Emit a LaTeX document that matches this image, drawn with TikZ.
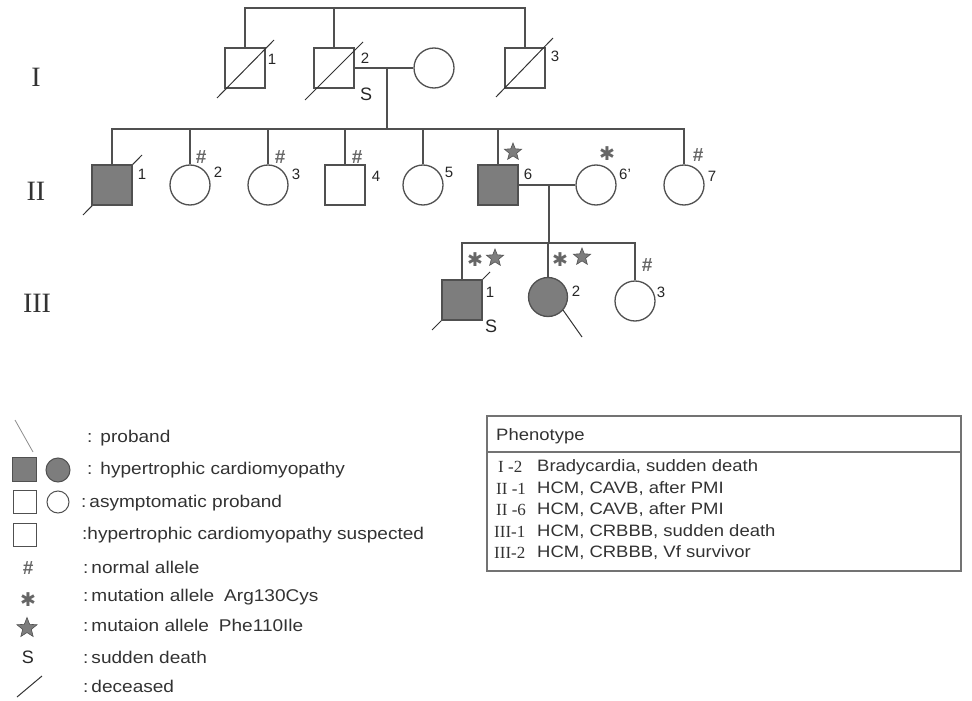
\documentclass[tikz,border=0pt]{standalone}
\usepackage{fontspec}
\setmainfont{Liberation Sans}
\newfontfamily\romanf{Liberation Serif}
\newfontfamily\widef[FakeStretch=1.12]{Liberation Sans}
\newfontfamily\symf{DejaVu Sans}
\usetikzlibrary{shapes.geometric}
\definecolor{lc}{RGB}{80,80,80}
\definecolor{fc}{RGB}{125,125,125}
\definecolor{tc}{RGB}{50,50,50}
\begin{document}
\begin{tikzpicture}[x=1pt,y=-1pt,
 ln/.style={draw=lc,line width=1.3pt},
 sq/.style={rectangle,draw=lc,line width=1.3pt,minimum size=40pt,inner sep=0pt},
 ci/.style={circle,draw=lc,line width=1.3pt,minimum size=40pt,inner sep=0pt},
 aff/.style={fill=fc},
 slash/.style={draw=black!80,line width=1pt},
 num/.style={font=\fontsize{15}{15}\selectfont,text=black!85,inner sep=0pt},
 sdeath/.style={font=\fontsize{18}{18}\selectfont,text=black!85,inner sep=0pt},
 gen/.style={font=\romanf\fontsize{28}{28}\selectfont,text=black!80,inner sep=0pt},
 hashm/.style={font=\bfseries\itshape\fontsize{19}{19}\selectfont,text=black!60,inner sep=0pt},
 astm/.style={font=\symf\fontsize{19}{19}\selectfont,text=black!60,inner sep=0pt},
 starm/.style={star,star points=5,star point ratio=2.3,fill=fc,draw=lc,line width=0.6pt,minimum size=18pt,inner sep=0pt},
 leg/.style={font=\widef\fontsize{17}{17}\selectfont,text=tc,anchor=west,inner sep=0pt},
 tbl/.style={font=\widef\fontsize{16.5}{16.5}\selectfont,text=tc,anchor=west,inner sep=0pt},
 tblr/.style={font=\romanf\fontsize{17}{17}\selectfont,text=tc,anchor=west,inner sep=0pt},
]
\useasboundingbox (0,0) rectangle (972,701);

% generation labels
\node[gen] (gI) at (36,77) {I};
\node[gen] (gII) at (36,191) {II};
\node[gen] (gIII) at (37,303) {III};

% ---------- Generation I ----------
\node[sq] (I1) at (245,68) {};
\node[sq] (I2) at (334,68) {};
\node[ci] (I2w) at (434,68) {};
\node[sq] (I3) at (525,68) {};
\draw[slash] (217,98) -- (274,40);
\draw[slash] (305,100) -- (363,42);
\draw[slash] (496,97) -- (553,38);
\node[num] (n11) at (272,59) {1};
\node[num] (n12) at (365,58) {2};
\node[sdeath] (s12) at (366,94) {S};
\node[num] (n13) at (555,56) {3};

\coordinate (t1) at (245,8);
\coordinate (t3) at (525,8);
\coordinate (t2) at (334,8);
\draw[ln] (I1.north) -- (t1) -- (t3) -- (I3.north);
\draw[ln] (t2) -- (I2.north);
\draw[ln] (I2.east) -- (I2w.west);
\coordinate (m1) at (387,68);
\coordinate (m1b) at (387,129);
\draw[ln] (m1) -- (m1b);

% ---------- Generation II ----------
\draw[slash] (83,215) -- (142,155);
\node[sq,aff] (II1) at (112,185) {};
\node[ci] (II2) at (190,185) {};
\node[ci] (II3) at (268,185) {};
\node[sq] (II4) at (345,185) {};
\node[ci] (II5) at (423,185) {};
\node[sq,aff] (II6) at (498,185) {};
\node[ci] (II6w) at (596,185) {};
\node[ci] (II7) at (684,185) {};

\coordinate (s1) at (112,129);
\coordinate (s7) at (684,129);
\draw[ln] (II1.north) -- (s1) -- (s7) -- (II7.north);
\foreach \k in {II2,II3,II4,II5,II6}{
  \draw[ln] (\k.north) -- (\k.north |- s1);
}
\draw[ln] (II6.east) -- (II6w.west);
\coordinate (m2) at (549,185);
\coordinate (m2b) at (549,243);
\draw[ln] (m2) -- (m2b);

\node[num] (n21) at (142,174) {1};
\node[num] (n22) at (218,172) {2};
\node[num] (n23) at (296,174) {3};
\node[num] (n24) at (376,176) {4};
\node[num] (n25) at (449,172) {5};
\node[num] (n26) at (528,174) {6};
\node[num] (n26w) at (625,174) {6'};
\node[num] (n27) at (712,176) {7};
\node[hashm] (h22) at (201,157) {\#};
\node[hashm] (h23) at (280,157) {\#};
\node[hashm] (h24) at (357,157) {\#};
\node[hashm] (h27) at (698,155) {\#};
\node[starm] (st26) at (513,152) {};
\node[astm] (a26w) at (607,154) {✱};

% ---------- Generation III ----------
\draw[slash] (432,330) -- (490,272);
\node[sq,aff] (III1) at (462,300) {};
\node[ci,aff,minimum size=39pt] (III2) at (548,297) {};
\node[ci] (III3) at (635,301) {};
\draw[slash] (563,310) -- (582,337);

\coordinate (u1) at (462,243);
\coordinate (u3) at (635,243);
\draw[ln] (III1.north) -- (u1) -- (u3) -- (III3.north);
\draw[ln] (III2.north) -- (III2.north |- u1);

\node[astm] (a31) at (475,260) {✱};
\node[starm] (st31) at (495,258) {};
\node[astm] (a32) at (560,260) {✱};
\node[starm] (st32) at (582,257) {};
\node[hashm] (h33) at (647,265) {\#};
\node[num] (n31) at (490,292) {1};
\node[sdeath] (s31) at (491,326) {S};
\node[num] (n32) at (576,291) {2};
\node[num] (n33) at (661,292) {3};

% ---------- Legend ----------
\draw[draw=black!45,line width=0.8pt] (15,420) -- (33,452);
\node[leg] (L1) at (87,438) {:\hspace{8pt}proband};
\node[rectangle,fill=fc,draw=lc,line width=1pt,minimum size=24pt,inner sep=0pt] (Lsq1) at (24.5,469.5) {};
\node[circle,fill=fc,draw=lc,line width=1pt,minimum size=24pt,inner sep=0pt] (Lci1) at (58,470) {};
\node[leg] (L2) at (87,470) {:\hspace{8pt}hypertrophic cardiomyopathy};
\node[rectangle,draw=lc,line width=1pt,minimum size=23pt,inner sep=0pt] (Lsq2) at (24.5,502) {};
\node[circle,draw=lc,line width=1pt,minimum size=22pt,inner sep=0pt] (Lci2) at (58,502) {};
\node[leg] (L3) at (81,503) {:\hspace{3pt}asymptomatic proband};
\node[rectangle,draw=lc,line width=1pt,minimum size=23pt,inner sep=0pt] (Lsq3) at (24.5,535) {};
\node[leg] (L4) at (82,535) {:hypertrophic cardiomyopathy suspected};
\node[hashm] (Lh) at (28,568) {\#};
\node[leg] (L5) at (83,567) {:\hspace{3pt}normal allele};
\node[astm] (La) at (28,600) {✱};
\node[leg] (L6) at (83,597) {:\hspace{3pt}mutation allele\hspace{10pt}Arg130Cys};
\node[starm,minimum size=21pt] (Ls) at (27,628) {};
\node[leg] (L7) at (83,625) {:\hspace{3pt}mutaion allele\hspace{10pt}Phe110Ile};
\node[sdeath] (LS) at (28,657) {S};
\node[leg] (L8) at (83,657) {:\hspace{3pt}sudden death};
\draw[slash] (17,697) -- (42,676);
\node[leg] (L9) at (83,686) {:\hspace{3pt}deceased};

% ---------- Phenotype table ----------
\draw[draw=black!55,line width=2pt] (487,416) rectangle (961,571);
\coordinate (hl) at (487,452);
\coordinate (hr) at (961,452);
\draw[draw=black!55,line width=1.6pt] (hl) -- (hr);
\node[tbl] (ph) at (496,436) {Phenotype};
\node[tblr] (r1a) at (498,467) {I -2};
\node[tbl] (r1b) at (537,467) {Bradycardia, sudden death};
\node[tblr] (r2a) at (496,489) {II -1};
\node[tbl] (r2b) at (537,489) {HCM, CAVB, after PMI};
\node[tblr] (r3a) at (496,510) {II -6};
\node[tbl] (r3b) at (537,510) {HCM, CAVB, after PMI};
\node[tblr] (r4a) at (494,532) {III-1};
\node[tbl] (r4b) at (537,532) {HCM, CRBBB, sudden death};
\node[tblr] (r5a) at (494,553) {III-2};
\node[tbl] (r5b) at (537,553) {HCM, CRBBB, Vf survivor};
\end{tikzpicture}
\end{document}
